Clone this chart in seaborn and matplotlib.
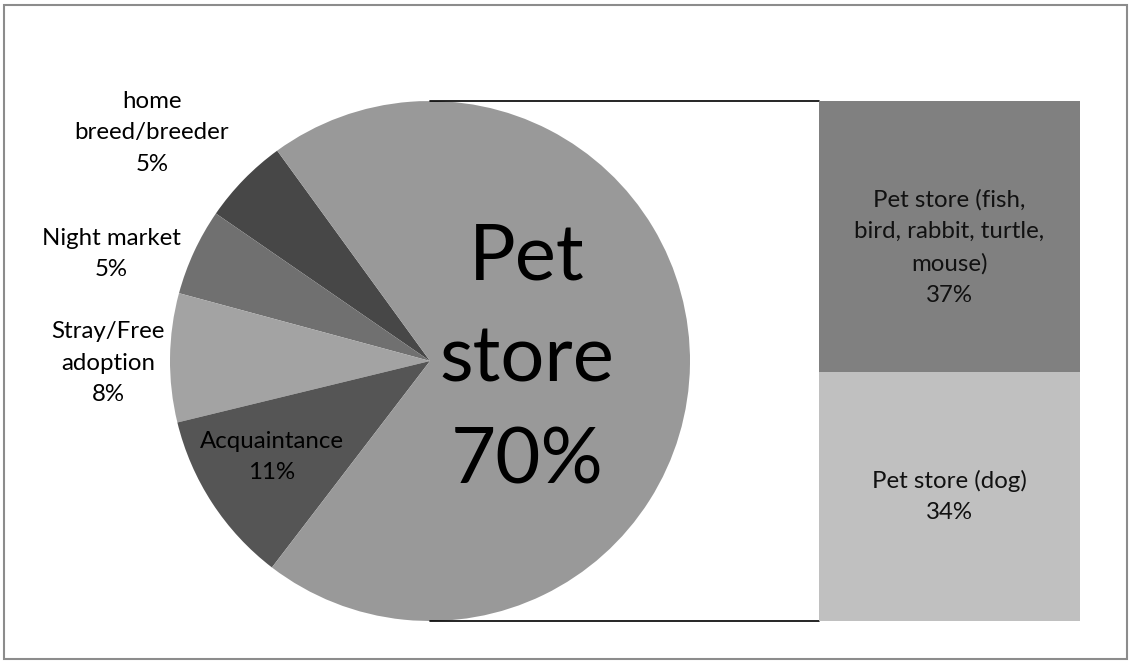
import matplotlib
matplotlib.use("Agg")
import matplotlib.pyplot as plt
import seaborn as sns
import numpy as np
from matplotlib.lines import Line2D
from matplotlib.patches import Rectangle

# Where pets were obtained (share of respondents, %)
pie_labels = ["home\nbreed/breeder", "Night market", "Stray/Free\nadoption",
              "Acquaintance", "Pet store"]
pie_values = [5.4, 5.4, 8.0, 10.8, 70.4]
pie_colors = ["#474747", "#707070", "#a3a3a3", "#555555", "#999999"]

# Breakdown of the pet store slice
bar_labels = ["Pet store (dog)", "Pet store (fish,\nbird, rabbit, turtle,\nmouse)"]
bar_values = [34, 37]
bar_colors = ["#c0c0c0", "#808080"]

sns.set_theme(style="white")
plt.rcParams["font.family"] = ["Lato", "DejaVu Sans"]

W, H = 1132, 664
fig = plt.figure(figsize=(W / 100, H / 100), dpi=100)
fig.patch.set_facecolor("white")

# Pie axes in pixel-like units (y measured upward)
ax = fig.add_axes([0, 0, 1, 1])
cx, cy, r = 430, H - 361, 260
wedges, _ = ax.pie(pie_values, colors=pie_colors, startangle=126,
                   center=(cx, cy), radius=r, frame=True,
                   wedgeprops=dict(linewidth=0))
ax.set_xlim(0, W)
ax.set_ylim(0, H)
ax.set_aspect("equal")
ax.axis("off")

label_pos = [(152, 133), (111, 254), (108, 363), (272, 457), (527, 360)]
fs_small = 17.3
ls_small = 1.62
for lab, val, (px, py) in zip(pie_labels, pie_values, label_pos):
    if lab == "Pet store":
        ax.text(px, H - py, f"Pet\nstore\n{val:.0f}%", ha="center", va="center",
                fontsize=56, color="black", linespacing=1.55)
    else:
        ax.text(px, H - py, f"{lab}\n{val:.0f}%", ha="center", va="center",
                fontsize=fs_small, color="black", linespacing=ls_small)

# Stacked bar for the pet store split
bx0, bx1, by0, by1 = 819, 1080, 101, 621
bax = fig.add_axes([bx0 / W, (H - by1) / H, (bx1 - bx0) / W, (by1 - by0) / H])
total = sum(bar_values)
sns.barplot(x=["Pet store"], y=[total], color=bar_colors[1], width=1.0,
            saturation=1, ax=bax, linewidth=0)
sns.barplot(x=["Pet store"], y=[bar_values[0]], color=bar_colors[0], width=1.0,
            saturation=1, ax=bax, linewidth=0)
bax.set_xlim(-0.5, 0.5)
bax.set_ylim(0, total)
bax.axis("off")
bottoms = np.cumsum([0] + bar_values[:-1])
for lab, val, b in zip(bar_labels, bar_values, bottoms):
    yoff = -1.5 if b > 0 else 0
    bax.text(0, b + val / 2 + yoff, f"{lab}\n{val}%", ha="center", va="center",
             fontsize=fs_small, color="#111111", linespacing=ls_small)

# Connector lines from the pie to the bar
for yy in (cy + r, cy - r):
    ax.add_line(Line2D([cx, bx0], [yy, yy], color="black", linewidth=1.2))

# Outer chart border
fig.add_artist(Rectangle((4 / W, 5 / H), (W - 9) / W, (H - 10) / H,
                         transform=fig.transFigure, fill=False,
                         edgecolor="#8c8c8c", linewidth=1.5))

fig.savefig("out.png", dpi=100, facecolor="white")
